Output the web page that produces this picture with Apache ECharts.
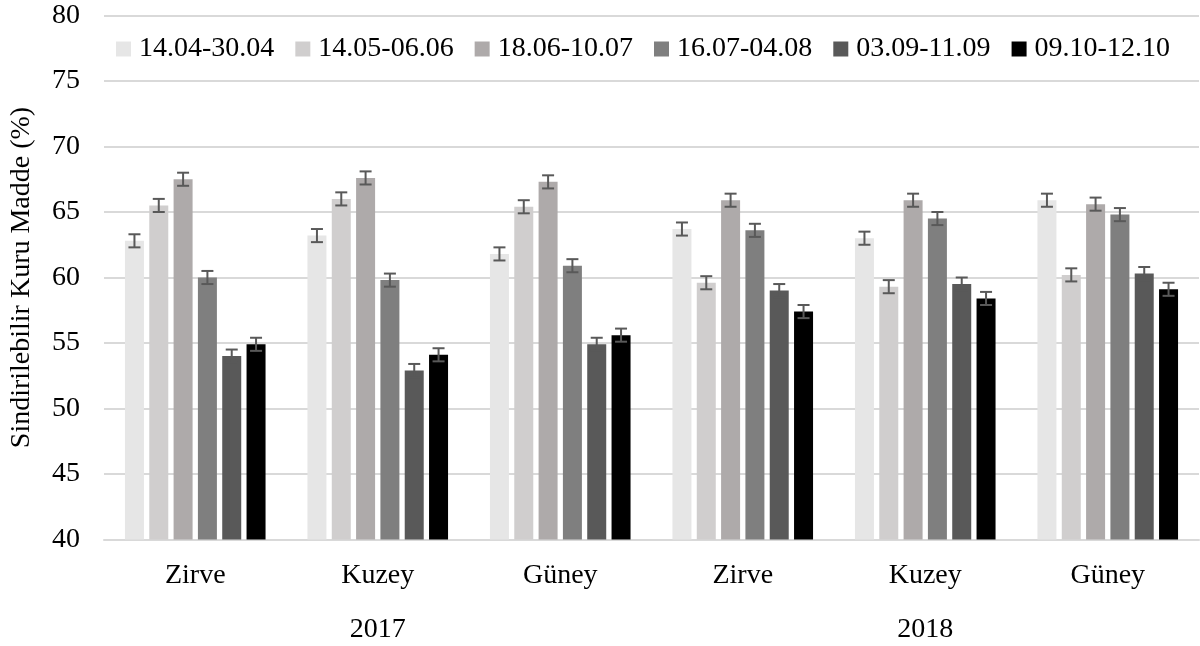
<!DOCTYPE html>
<html>
<head>
<meta charset="utf-8">
<script src="https://cdn.jsdelivr.net/npm/echarts@6/dist/echarts.min.js"></script>
<style>
  html, body { margin: 0; padding: 0; background: #ffffff; }
  #chart { width: 1200px; height: 646px; }
</style>
</head>
<body>
<div id="chart"></div>
<script>
// Sites per year, and the two years they fall under
const sites = ['Zirve', 'Kuzey', 'Güney', 'Zirve', 'Kuzey', 'Güney'];
const years = ['2017', '2018'];

// Sampling periods (one bar series each)
const periods = ['14.04-30.04', '14.05-06.06', '18.06-10.07', '16.07-04.08', '03.09-11.09', '09.10-12.10'];

// Digestible dry matter (%) per period, ordered as in `sites`
const p1 = [62.8, 63.2, 61.8, 63.7, 63.0, 65.9];
const p2 = [65.5, 66.0, 65.4, 59.6, 59.3, 60.2];
const p3 = [67.5, 67.6, 67.3, 65.9, 65.9, 65.6];
const p4 = [60.0, 59.8, 60.9, 63.6, 64.5, 64.8];
const p5 = [54.0, 52.9, 54.9, 59.0, 59.5, 60.3];
const p6 = [54.9, 54.1, 55.6, 57.4, 58.4, 59.1];

// Standard errors per period
const e1 = [0.5, 0.5, 0.5, 0.5, 0.5, 0.5];
const e2 = [0.5, 0.5, 0.5, 0.5, 0.5, 0.5];
const e3 = [0.5, 0.5, 0.5, 0.5, 0.5, 0.5];
const e4 = [0.5, 0.5, 0.5, 0.5, 0.5, 0.5];
const e5 = [0.5, 0.5, 0.5, 0.5, 0.5, 0.5];
const e6 = [0.5, 0.5, 0.5, 0.5, 0.5, 0.5];

// Y-axis range
const yMin = 40, yMax = 80, yStep = 5;

const values = [p1, p2, p3, p4, p5, p6];
const errors = [e1, e2, e3, e4, e5, e6];
const colors = ['#e6e6e6', '#d0cece', '#aeaaaa', '#7f7f7f', '#595959', '#000000'];

const FONT = "'Liberation Serif', 'Times New Roman', serif";
const BAR_W = 19;
const GAP_RATIO = 0.28;
const STEP = BAR_W * (1 + GAP_RATIO);
const N = periods.length;

function barOffset(i) {
  const total = N * BAR_W + (N - 1) * BAR_W * GAP_RATIO;
  return -total / 2 + BAR_W / 2 + i * STEP;
}

const chart = echarts.init(document.getElementById('chart'), null, { renderer: 'canvas' });

const barSeries = periods.map((name, i) => ({
  name: name,
  type: 'bar',
  xAxisIndex: 0,
  barWidth: BAR_W,
  barGap: (GAP_RATIO * 100) + '%',
  itemStyle: { color: colors[i] },
  emphasis: { disabled: true },
  data: values[i]
}));

const errorSeries = periods.map((name, i) => ({
  type: 'custom',
  xAxisIndex: 0,
  z: 5,
  silent: true,
  data: values[i].map((v, k) => [k, v, errors[i][k]]),
  renderItem: function (params, api) {
    const k = api.value(0);
    const v = api.value(1);
    const e = api.value(2);
    const x = api.coord([k, v])[0] + barOffset(i);
    const yHi = api.coord([k, v + e])[1];
    const yLo = api.coord([k, v - e])[1];
    const cap = 6;
    const st = { stroke: '#595959', lineWidth: 2 };
    return {
      type: 'group',
      children: [
        { type: 'line', shape: { x1: x, y1: yHi, x2: x, y2: yLo }, style: st },
        { type: 'line', shape: { x1: x - cap, y1: yHi, x2: x + cap, y2: yHi }, style: st },
        { type: 'line', shape: { x1: x - cap, y1: yLo, x2: x + cap, y2: yLo }, style: st }
      ]
    };
  }
}));

const option = {
  backgroundColor: '#ffffff',
  animation: false,
  textStyle: { fontFamily: FONT, color: '#000000' },
  grid: { left: 104, right: 1, top: 15.5, bottom: 106.5, containLabel: false },
  legend: {
    data: periods,
    left: 116,
    top: 35,
    padding: 0,
    itemWidth: 15,
    itemHeight: 15,
    itemGap: 21,
    icon: 'rect',
    selectedMode: false,
    textStyle: { fontFamily: FONT, fontSize: 28, color: '#000000', lineHeight: 28, padding: [0, 0, 0, 3] }
  },
  xAxis: [
    {
      type: 'category',
      data: sites,
      axisLine: { show: true, lineStyle: { color: '#d9d9d9', width: 2 } },
      axisTick: { show: false },
      axisLabel: { fontFamily: FONT, fontSize: 28, color: '#000000', margin: 22 },
      splitLine: { show: false }
    },
    {
      type: 'category',
      data: years,
      position: 'bottom',
      offset: 54,
      axisLine: { show: false },
      axisTick: { show: false },
      axisLabel: { fontFamily: FONT, fontSize: 28, color: '#000000', margin: 22 },
      splitLine: { show: false }
    }
  ],
  yAxis: {
    type: 'value',
    min: yMin,
    max: yMax,
    interval: yStep,
    name: 'Sindirilebilir Kuru Madde (%)',
    nameLocation: 'middle',
    nameGap: 68,
    nameTextStyle: { fontFamily: FONT, fontSize: 28, color: '#000000' },
    axisLine: { show: false },
    axisTick: { show: false },
    axisLabel: { fontFamily: FONT, fontSize: 28, color: '#000000', margin: 24 },
    splitLine: { show: true, lineStyle: { color: '#d9d9d9', width: 2 } }
  },
  series: barSeries.concat(errorSeries)
};

chart.setOption(option);
</script>
</body>
</html>
